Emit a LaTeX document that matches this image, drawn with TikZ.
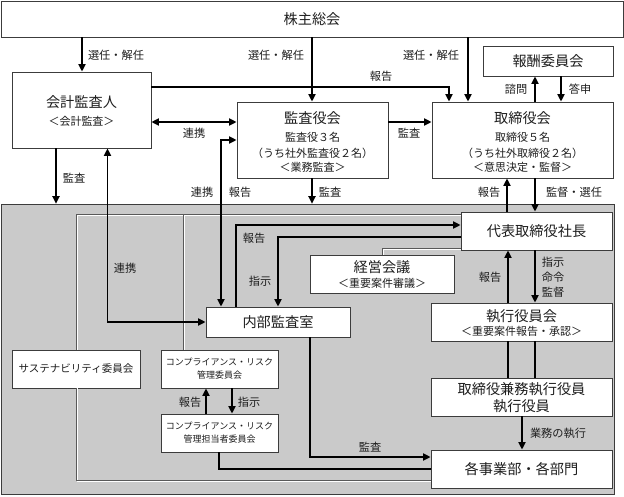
\documentclass[tikz,border=0pt]{standalone}
\usepackage{fontspec}
\setmainfont{Noto Sans CJK JP}
\usetikzlibrary{arrows.meta}
\definecolor{regiongray}{RGB}{202,202,202}
\definecolor{boxline}{RGB}{60,60,60}
\definecolor{txt}{RGB}{30,30,30}
\begin{document}
\begin{tikzpicture}[x=1pt,y=-1pt,
  box/.style={draw=boxline, line width=0.8pt, fill=white, inner sep=0pt, text=txt},
  big/.style={font=\fontsize{14.2}{15}\selectfont, text=txt, inner sep=0pt},
  mid/.style={font=\fontsize{11}{12}\selectfont, text=txt, inner sep=0pt},
  lab/.style={font=\fontsize{11.2}{15}\selectfont, text=txt, inner sep=0pt, align=center},
  small/.style={font=\fontsize{9}{13}\selectfont, text=txt, inner sep=0pt, align=center},
  arr/.style={line width=1.8pt, -{Triangle[length=7.5pt,width=7pt]}},
  barr/.style={line width=1.8pt, {Triangle[length=7.5pt,width=7pt]}-{Triangle[length=7.5pt,width=7pt]}},
  thk/.style={line width=1.8pt},
  thinline/.style={draw=black!65, line width=0.6pt},
  hiline/.style={draw=white, line width=0.6pt, xshift=0.9pt, yshift=-0.9pt},
]
\useasboundingbox (0,0) rectangle (624,496);
\fill[white] (0,0) rectangle (624,496);
% gray region
\node[draw=boxline, line width=0.6pt, fill=regiongray, minimum width=613pt, minimum height=290pt, inner sep=0pt] (region) at (307.5,349) {};

% ---- boxes
\node[box, big, minimum width=622pt, minimum height=36pt] (soukai) at (312,19) {株主総会};
\node[box, big, minimum width=130pt, minimum height=30pt] (houshu) at (548,61) {報酬委員会};
\node[box, minimum width=139pt, minimum height=76pt] (kaikei) at (81.5,110) {};
\node[big] (kaikeiT) at (81.5,102) {会計監査人};
\node[mid] (kaikeiS) at (81.5,121) {＜会計監査＞};
\node[box, minimum width=151pt, minimum height=76pt] (kansa) at (312.5,140) {};
\node[big] (kansaT) at (312.5,118) {監査役会};
\node[mid] (kansaA) at (312.5,137) {監査役３名};
\node[mid] (kansaB) at (312.5,153) {（うち社外監査役２名）};
\node[mid] (kansaC) at (312.5,167) {＜業務監査＞};
\node[box, minimum width=181pt, minimum height=76pt] (tori) at (522.5,140) {};
\node[big] (toriT) at (522.5,118) {取締役会};
\node[mid] (toriA) at (522.5,137) {取締役５名};
\node[mid] (toriB) at (522.5,153) {（うち社外取締役２名）};
\node[mid] (toriC) at (522.5,167) {＜意思決定・監督＞};

\node[box, big, minimum width=151pt, minimum height=38pt] (daihyo) at (536.5,231) {代表取締役社長};
\node[box, minimum width=144pt, minimum height=38pt] (keiei) at (382,274) {};
\node[big] (keieiT) at (382,267) {経営会議};
\node[mid] (keieiS) at (382,283) {＜重要案件審議＞};
\node[box, big, minimum width=144pt, minimum height=30pt] (naibu) at (278,322) {内部監査室};
\node[box, minimum width=181pt, minimum height=38pt] (shikko) at (521.5,322) {};
\node[big] (shikkoT) at (521.5,316) {執行役員会};
\node[mid] (shikkoS) at (521.5,331) {＜重要案件報告・承認＞};
\node[box, minimum width=181pt, minimum height=38pt] (kenmu) at (521.5,397) {};
\node[big] (kenmuA) at (521.5,389) {取締役兼務執行役員};
\node[big] (kenmuB) at (521.5,406) {執行役員};
\node[box, big, minimum width=181pt, minimum height=38pt] (kakuji) at (521.5,469) {各事業部・各部門};
\node[box, font=\fontsize{10.5}{12}\selectfont, minimum width=128pt, minimum height=38pt] (sus) at (76,369) {サステナビリティ委員会};
\node[box, small, minimum width=117pt, minimum height=38pt] (comp1) at (219.5,369) {コンプライアンス・リスク\\管理委員会};
\node[box, small, minimum width=117pt, minimum height=38pt] (comp2) at (219.5,433) {コンプライアンス・リスク\\管理担当者委員会};

% ---- thin structure lines
\draw[hiline] (sus.north -| 76,0) -- (76,214) -- (daihyo.west |- 0,214);
\draw[thinline] (sus.north -| 76,0) -- (76,214) -- (daihyo.west |- 0,214);
\draw[hiline] (sus.south -| 76,0) -- (76,480) -- (kakuji.west |- 0,480);
\draw[thinline] (sus.south -| 76,0) -- (76,480) -- (kakuji.west |- 0,480);
\draw[hiline] (183,214) -- (comp1.north -| 183,0);
\draw[thinline] (183,214) -- (comp1.north -| 183,0);
\draw[hiline] (keiei.north -| 382,0) -- (382,248) -- (daihyo.west |- 0,248);
\draw[thinline] (keiei.north -| 382,0) -- (382,248) -- (daihyo.west |- 0,248);

% ---- thick connectors (top)
\draw[arr] (soukai.south -| 82,0) -- (kaikei.north -| 82,0);
\draw[arr] (soukai.south -| 312,0) -- (kansa.north -| 312,0);
\draw[arr] (soukai.south -| 468,0) -- (tori.north -| 468,0);
\draw[arr] (tori.north -| 535,0) -- (houshu.south -| 535,0);
\draw[arr] (houshu.south -| 561,0) -- (tori.north -| 561,0);
\draw[arr] (kaikei.east |- 0,87) -- (449,87) -- (tori.north -| 449,0);
\draw[barr] (kaikei.east |- 0,122) -- (kansa.west |- 0,122);
\draw[arr] (kansa.east |- 0,122) -- (tori.west |- 0,122);
\draw[arr] (kaikei.south -| 56,0) -- (region.north -| 56,0);
\draw[barr] (kaikei.south -| 107.5,0) -- (107.5,322) -- (naibu.west |- 0,322);
\draw[barr] (kansa.west |- 0,140) -- (221,140) -- (naibu.north -| 221,0);
\draw[arr] (kansa.south -| 312,0) -- (region.north -| 312,0);
\draw[arr] (daihyo.north -| 507,0) -- (tori.south -| 507,0);
\draw[arr] (tori.south -| 535,0) -- (daihyo.north -| 535,0);

% ---- thick connectors (inside)
\draw[arr] (naibu.north -| 236,0) -- (236,225) -- (daihyo.west |- 0,225);
\draw[arr] (daihyo.west |- 0,237) -- (278,237) -- (naibu.north -| 278,0);
\draw[arr] (shikko.north -| 508,0) -- (daihyo.south -| 508,0);
\draw[arr] (daihyo.south -| 535,0) -- (shikko.north -| 535,0);
\draw[thk] (shikko.south -| 508,0) -- (kenmu.north -| 508,0);
\draw[thk] (shikko.south -| 535,0) -- (kenmu.north -| 535,0);
\draw[arr] (kenmu.south -| 522,0) -- (kakuji.north -| 522,0);
\draw[arr] (naibu.south -| 310,0) -- (310,457) -- (kakuji.west |- 0,457);
\draw[thk] (comp2.south -| 219,0) -- (219,469) -- (kakuji.west |- 0,469);
\draw[arr] (comp2.north -| 206,0) -- (comp1.south -| 206,0);
\draw[arr] (comp1.south -| 232,0) -- (comp2.north -| 232,0);

% ---- labels
\node[lab] (l1) at (116,55) {選任・解任};
\node[lab] (l2) at (276,55) {選任・解任};
\node[lab] (l3) at (431,55) {選任・解任};
\node[lab] (l4) at (381,76) {報告};
\node[lab] (l5) at (516,89) {諮問};
\node[lab] (l6) at (580,89) {答申};
\node[lab] (l7) at (194,133) {連携};
\node[lab] (l8) at (409,133) {監査};
\node[lab] (l9) at (74,178) {監査};
\node[lab] (l10) at (202,192) {連携};
\node[lab] (l11) at (240,192) {報告};
\node[lab] (l12) at (330,192) {監査};
\node[lab] (l13) at (489,192) {報告};
\node[lab] (l14) at (574,192) {監督・選任};
\node[lab] (l15) at (125,268) {連携};
\node[lab] (l16) at (254,238) {報告};
\node[lab] (l17) at (260,281) {指示};
\node[lab] (l18) at (490,277) {報告};
\node[lab] (l19) at (553,277) {指示\\命令\\監督};
\node[lab] (l20) at (558,433) {業務の執行};
\node[lab] (l21) at (370,447) {監査};
\node[lab] (l22) at (190,402) {報告};
\node[lab] (l23) at (249,402) {指示};
\end{tikzpicture}
\end{document}
